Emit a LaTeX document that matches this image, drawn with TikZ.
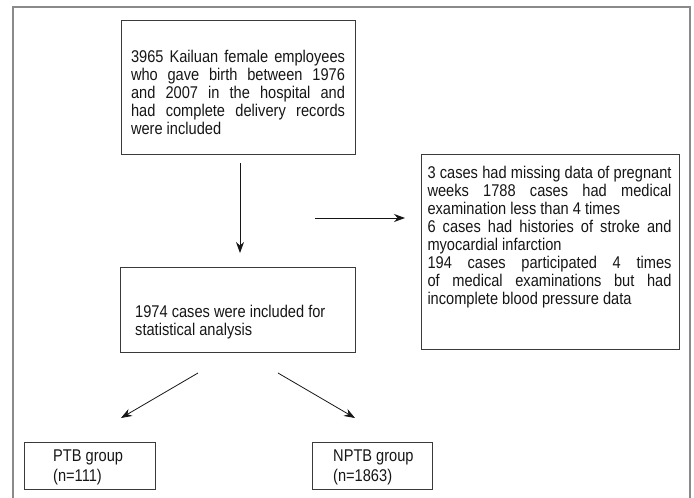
\documentclass[tikz,border=0pt]{standalone}
\usepackage{fontspec}
\setmainfont{Liberation Sans}[FakeStretch=0.86]
\usetikzlibrary{arrows.meta}
\definecolor{boxc}{HTML}{3A3A3A}
\definecolor{framec}{HTML}{8A8A8A}
\definecolor{txtc}{HTML}{161616}
\begin{document}
\begin{tikzpicture}[x=1pt,y=-1pt,
  box/.style={draw=boxc, line width=0.9pt, inner sep=0pt, anchor=north west},
  txt/.style={inner sep=0pt, text=txtc, font=\fontsize{17}{18}\selectfont},
  arr/.style={draw=txtc, line width=0.8pt, -{Stealth[length=11pt,width=8pt]}},
  frame/.style={draw=framec, line width=1.8pt}
]
\useasboundingbox (0,0) rectangle (694,498);
\draw[frame] (13,498) -- (13,7) -- (690,7) -- (690,498);

% boxes
\node[box, minimum width=234pt, minimum height=134pt] (b1) at (121,20) {};
\node[box, minimum width=258pt, minimum height=195pt] (rb) at (421,154) {};
\node[box, minimum width=235pt, minimum height=85pt] (b2) at (120,267) {};
\node[box, minimum width=131pt, minimum height=47pt] (ptb) at (24,442) {};
\node[box, minimum width=120pt, minimum height=47pt] (nptb) at (312,442) {};

% texts
\node[txt, text width=214pt, align=justify] (t1) at (238,92)
 {3965 Kailuan female employees\linebreak who gave birth between 1976\linebreak and 2007 in the hospital and\linebreak had complete delivery records\linebreak were included};
\node[txt, text width=244pt, align=justify] (trb) at (549.5,237)
 {3 cases had missing data of pregnant\linebreak weeks 1788 cases had medical\linebreak examination less than 4 times\par
  6 cases had histories of stroke and\linebreak myocardial infarction\par
  194 cases participated 4 times\linebreak of medical examinations but had\linebreak incomplete blood pressure data};
\node[txt, anchor=west, align=left] (t2) at (135,322)
 {1974 cases were included for\\statistical analysis};
\node[txt, anchor=west, align=left, font=\fontsize{17}{20}\selectfont] (tptb) at (53,467)
 {PTB group\\(n=111)};
\node[txt, anchor=west, align=left, font=\fontsize{17}{20}\selectfont] (tnptb) at (333,467)
 {NPTB group\\(n=1863)};

% arrow end points
\coordinate (v1) at (240,163);
\coordinate (v2) at (240,253);
\coordinate (h1) at (315,218);
\coordinate (h2) at (405,218);
\coordinate (l1) at (198,373);
\coordinate (l2) at (121,418);
\coordinate (r1) at (278,373);
\coordinate (r2) at (355,418);

\draw[arr] (v1) -- (v2);
\draw[arr] (h1) -- (h2);
\draw[arr] (l1) -- (l2);
\draw[arr] (r1) -- (r2);
\end{tikzpicture}
\end{document}
